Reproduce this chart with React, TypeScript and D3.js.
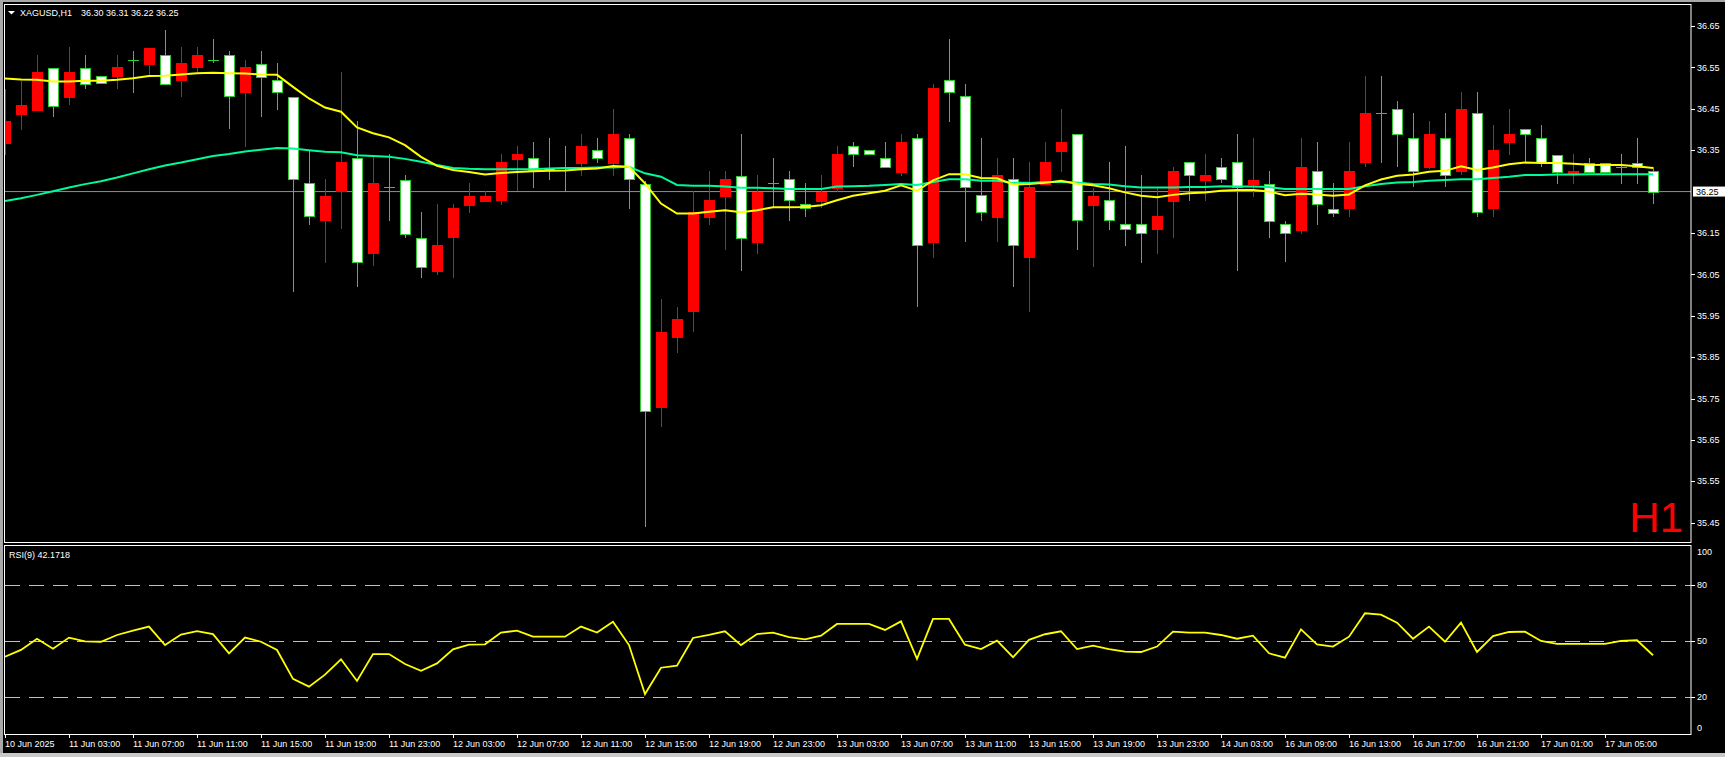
import React from "react";
import * as d3 from "d3";

// hourly bars, XAGUSD H1 (white = falling bar, red = rising bar)
const opens = [36.368, 36.438, 36.448, 36.549, 36.479, 36.549, 36.528, 36.528, 36.569, 36.56, 36.579, 36.518, 36.55, 36.569, 36.579, 36.489, 36.559, 36.519, 36.479, 36.27, 36.18, 36.25, 36.33, 36.1, 36.26, 36.279, 36.139, 36.059, 36.139, 36.218, 36.228, 36.228, 36.329, 36.33, 36.308, 36.308, 36.32, 36.35, 36.32, 36.379, 36.269, 35.73, 35.899, 35.961, 36.189, 36.238, 36.288, 36.129, 36.27, 36.28, 36.219, 36.228, 36.26, 36.36, 36.35, 36.33, 36.298, 36.379, 36.129, 36.519, 36.48, 36.241, 36.189, 36.28, 36.09, 36.269, 36.349, 36.388, 36.218, 36.229, 36.171, 36.171, 36.159, 36.227, 36.321, 36.279, 36.309, 36.321, 36.269, 36.269, 36.171, 36.158, 36.299, 36.209, 36.209, 36.32, 36.439, 36.449, 36.379, 36.309, 36.379, 36.299, 36.439, 36.209, 36.368, 36.4, 36.379, 36.339, 36.292, 36.32, 36.32, 36.309, 36.32, 36.3];
const highs = [36.499, 36.517, 36.58, 36.549, 36.599, 36.58, 36.528, 36.58, 36.59, 36.598, 36.64, 36.599, 36.599, 36.619, 36.59, 36.569, 36.59, 36.561, 36.479, 36.35, 36.28, 36.539, 36.42, 36.334, 36.34, 36.29, 36.201, 36.221, 36.22, 36.271, 36.251, 36.341, 36.36, 36.37, 36.379, 36.36, 36.389, 36.379, 36.449, 36.389, 36.275, 35.99, 35.971, 36.251, 36.3, 36.3, 36.389, 36.29, 36.331, 36.3, 36.271, 36.29, 36.36, 36.37, 36.35, 36.37, 36.389, 36.389, 36.51, 36.619, 36.51, 36.379, 36.331, 36.331, 36.321, 36.37, 36.45, 36.388, 36.259, 36.321, 36.36, 36.29, 36.259, 36.309, 36.321, 36.341, 36.331, 36.389, 36.379, 36.299, 36.18, 36.379, 36.37, 36.27, 36.37, 36.529, 36.529, 36.469, 36.439, 36.42, 36.439, 36.491, 36.491, 36.41, 36.449, 36.4, 36.41, 36.339, 36.34, 36.33, 36.32, 36.34, 36.379, 36.31];
const lows = [36.338, 36.399, 36.448, 36.429, 36.458, 36.499, 36.51, 36.499, 36.489, 36.532, 36.509, 36.479, 36.54, 36.56, 36.4, 36.358, 36.429, 36.448, 36.008, 36.17, 36.078, 36.159, 36.02, 36.069, 36.18, 36.139, 36.04, 36.048, 36.04, 36.199, 36.228, 36.218, 36.251, 36.259, 36.279, 36.25, 36.288, 36.32, 36.288, 36.209, 35.44, 35.68, 35.861, 35.91, 36.17, 36.11, 36.059, 36.1, 36.211, 36.18, 36.189, 36.21, 36.25, 36.309, 36.34, 36.309, 36.288, 35.97, 36.09, 36.419, 36.129, 36.18, 36.129, 36.02, 35.96, 36.269, 36.298, 36.11, 36.068, 36.158, 36.119, 36.078, 36.1, 36.139, 36.228, 36.228, 36.27, 36.059, 36.238, 36.139, 36.079, 36.148, 36.17, 36.189, 36.189, 36.309, 36.32, 36.309, 36.26, 36.305, 36.26, 36.29, 36.189, 36.189, 36.339, 36.32, 36.309, 36.269, 36.269, 36.299, 36.299, 36.269, 36.269, 36.22];
const closes = [36.42, 36.459, 36.539, 36.458, 36.539, 36.51, 36.51, 36.55, 36.569, 36.598, 36.509, 36.56, 36.579, 36.569, 36.48, 36.55, 36.528, 36.49, 36.28, 36.19, 36.239, 36.321, 36.079, 36.27, 36.26, 36.149, 36.069, 36.121, 36.21, 36.239, 36.239, 36.321, 36.341, 36.3, 36.303, 36.308, 36.36, 36.33, 36.389, 36.28, 35.721, 35.911, 35.942, 36.2, 36.23, 36.28, 36.139, 36.25, 36.27, 36.229, 36.21, 36.25, 36.341, 36.341, 36.34, 36.309, 36.37, 36.12, 36.5, 36.49, 36.26, 36.2, 36.29, 36.12, 36.26, 36.321, 36.37, 36.18, 36.239, 36.18, 36.159, 36.149, 36.191, 36.3, 36.289, 36.29, 36.279, 36.26, 36.279, 36.18, 36.149, 36.309, 36.219, 36.2, 36.299, 36.439, 36.439, 36.388, 36.299, 36.388, 36.29, 36.449, 36.2, 36.35, 36.388, 36.388, 36.32, 36.299, 36.299, 36.299, 36.299, 36.309, 36.31, 36.25];

// moving averages as drawn on the chart
const maFast = [36.523, 36.521, 36.52, 36.516, 36.516, 36.518, 36.518, 36.52, 36.524, 36.529, 36.53, 36.533, 36.536, 36.537, 36.536, 36.535, 36.533, 36.532, 36.503, 36.475, 36.453, 36.443, 36.405, 36.391, 36.381, 36.362, 36.334, 36.312, 36.302, 36.297, 36.291, 36.295, 36.297, 36.299, 36.3, 36.301, 36.304, 36.306, 36.312, 36.31, 36.27, 36.221, 36.197, 36.197, 36.201, 36.205, 36.2, 36.205, 36.212, 36.212, 36.213, 36.217, 36.229, 36.24, 36.246, 36.252, 36.265, 36.252, 36.277, 36.292, 36.292, 36.283, 36.282, 36.267, 36.268, 36.271, 36.276, 36.269, 36.265, 36.258, 36.248, 36.24, 36.236, 36.242, 36.246, 36.248, 36.252, 36.254, 36.254, 36.25, 36.241, 36.245, 36.243, 36.24, 36.243, 36.265, 36.279, 36.288, 36.291, 36.298, 36.3, 36.311, 36.302, 36.308, 36.316, 36.32, 36.319, 36.319, 36.317, 36.315, 36.314, 36.314, 36.311, 36.307];
const maSlow = [36.227, 36.234, 36.242, 36.251, 36.26, 36.268, 36.275, 36.284, 36.294, 36.304, 36.313, 36.32, 36.328, 36.336, 36.341, 36.347, 36.351, 36.355, 36.354, 36.35, 36.346, 36.345, 36.338, 36.336, 36.334, 36.329, 36.322, 36.314, 36.307, 36.305, 36.304, 36.304, 36.304, 36.304, 36.306, 36.307, 36.307, 36.308, 36.308, 36.31, 36.294, 36.286, 36.266, 36.264, 36.264, 36.262, 36.259, 36.259, 36.258, 36.256, 36.256, 36.256, 36.262, 36.263, 36.264, 36.266, 36.268, 36.266, 36.273, 36.28, 36.28, 36.276, 36.276, 36.271, 36.271, 36.273, 36.273, 36.272, 36.268, 36.267, 36.263, 36.26, 36.26, 36.26, 36.261, 36.261, 36.263, 36.262, 36.262, 36.261, 36.256, 36.256, 36.256, 36.256, 36.256, 36.263, 36.268, 36.272, 36.273, 36.276, 36.278, 36.28, 36.28, 36.283, 36.286, 36.29, 36.29, 36.291, 36.291, 36.292, 36.292, 36.292, 36.292, 36.292];

const rsi = [41.4, 45, 51, 45.7, 51.6, 49.6, 49.4, 53, 55.3, 57.5, 47.6, 53.2, 55.1, 53.5, 43.2, 51.6, 49.4, 45, 29.5, 25.4, 31.8, 40, 28.4, 42.8, 42.8, 37.5, 33.9, 37.8, 45.3, 47.8, 48, 54.3, 55.3, 52.1, 52.1, 52.1, 57.5, 54.3, 60.1, 47.6, 21.4, 35.5, 36.6, 51.4, 53, 55, 47.6, 53.5, 54.3, 51.8, 50.7, 52.6, 58.9, 58.9, 58.9, 55.7, 60.3, 40.2, 61.6, 61.6, 47.8, 45.5, 50, 41.1, 50.4, 53.4, 55, 45.5, 47.3, 45.5, 44.1, 43.9, 46.8, 54.8, 54.3, 54.3, 53, 51, 52.6, 43.2, 40.9, 56, 48, 46.8, 52.1, 64.6, 63.9, 59.6, 51, 57.5, 49.4, 59.6, 43.9, 52.4, 54.6, 54.8, 49.8, 48.2, 48.2, 48.2, 48.2, 49.8, 50.2, 42.1718];

const dateLabels = ["10 Jun 2025", "11 Jun 03:00", "11 Jun 07:00", "11 Jun 11:00", "11 Jun 15:00", "11 Jun 19:00", "11 Jun 23:00", "12 Jun 03:00", "12 Jun 07:00", "12 Jun 11:00", "12 Jun 15:00", "12 Jun 19:00", "12 Jun 23:00", "13 Jun 03:00", "13 Jun 07:00", "13 Jun 11:00", "13 Jun 15:00", "13 Jun 19:00", "13 Jun 23:00", "14 Jun 03:00", "16 Jun 09:00", "16 Jun 13:00", "16 Jun 17:00", "16 Jun 21:00", "17 Jun 01:00", "17 Jun 05:00"];
const priceTicks = [36.65, 36.55, 36.45, 36.35, 36.15, 36.05, 35.95, 35.85, 35.75, 35.65, 35.55, 35.45];
const rsiLevels = [80, 50, 20];
const rsiAxisLabels = [100, 80, 50, 20, 0];
const lastPrice = 36.25;

const W = 1725;
const H = 757;
const RIGHT = 1691;
const FONT = "'Liberation Sans', Arial, sans-serif";
const BULL = "#ff0000";
const BEAR = "#ffffff";
const EDGE = "#32cd32";

export default function App() {
  const n = closes.length;
  const x = d3.scaleLinear().domain([0, n - 1]).range([5, 5 + 16 * (n - 1)]);
  const y = d3.scaleLinear().domain([35.45, 36.65]).range([522.7, 26]);
  const yr = d3.scaleLinear().domain([0, 100]).range([734.1, 547.1]);

  const maLine = d3.line<number>().x((_, i) => x(i)).y((d) => y(d));
  const rsiLine = d3.line<number>().x((_, i) => x(i)).y((d) => yr(d));

  return (
    <svg width={W} height={H} style={{ position: "fixed", left: 0, top: 0, background: "#000" }} fontFamily={FONT}>
      <defs>
        <clipPath id="mainClip">
          <rect x={5} y={5} width={RIGHT - 5} height={537} />
        </clipPath>
        <clipPath id="rsiClip">
          <rect x={5} y={546} width={RIGHT - 5} height={188} />
        </clipPath>
      </defs>

      {/* window chrome */}
      <rect x={0} y={0} width={3} height={H} fill="#a8a8a8" />
      <rect x={0} y={0} width={W} height={2} fill="#a8a8a8" />
      <rect x={0} y={753} width={W} height={4} fill="#c8c8c8" />

      {/* main panel */}
      <g clipPath="url(#mainClip)">
        <line x1={5} x2={RIGHT} y1={y(lastPrice)} y2={y(lastPrice)} stroke="#8a9098" strokeWidth={1} />
        <g shapeRendering="crispEdges">
          {closes.map((c, i) => {
            const o = opens[i];
            const cx = Math.round(x(i));
            const bull = c > o;
            const doji = c === o;
            const top = y(Math.max(o, c));
            const bot = y(Math.min(o, c));
            return (
              <g key={i}>
                <line x1={cx + 0.5} x2={cx + 0.5} y1={y(highs[i])} y2={y(lows[i])} stroke={bull ? BULL : EDGE} />
                {doji ? (
                  <line x1={cx - 5} x2={cx + 6} y1={Math.round(top) + 0.5} y2={Math.round(top) + 0.5} stroke={EDGE} />
                ) : (
                  <rect
                    x={cx - 4.5}
                    y={Math.round(top) + 0.5}
                    width={10}
                    height={Math.max(1, Math.round(bot - top))}
                    fill={bull ? BULL : BEAR}
                    stroke={bull ? BULL : EDGE}
                  />
                )}
              </g>
            );
          })}
        </g>
        <path d={maLine(maSlow) ?? ""} fill="none" stroke="#00fa9a" strokeWidth={2} />
        <path d={maLine(maFast) ?? ""} fill="none" stroke="#ffff00" strokeWidth={2} />
      </g>
      <rect x={4.5} y={4.5} width={RIGHT - 4.5} height={538} fill="none" stroke="#fff" />

      <path d="M8,11 L15,11 L11.5,14.5 Z" fill="#fff" />
      <text x={20} y={16} fill="#fff" fontSize={9}>XAGUSD,H1</text>
      <text x={81} y={16} fill="#fff" fontSize={9}>
        {[opens[n - 1], highs[n - 1], lows[n - 1], closes[n - 1]].map((v) => v.toFixed(2)).join(" ")}
      </text>
      <text x={1683} y={532} fill="#ff0000" fontSize={42} textAnchor="end">H1</text>

      {/* price axis */}
      {priceTicks.map((p) => (
        <g key={p}>
          <line x1={RIGHT} x2={RIGHT + 4} y1={Math.round(y(p)) + 0.5} y2={Math.round(y(p)) + 0.5} stroke="#fff" />
          <text x={1697} y={y(p)} dy="0.35em" fill="#fff" fontSize={9}>{p.toFixed(2)}</text>
        </g>
      ))}
      <rect x={1693} y={y(lastPrice) - 5} width={32} height={10} fill="#fff" />
      <text x={1696} y={y(lastPrice)} dy="0.35em" fill="#000" fontSize={9}>{lastPrice.toFixed(2)}</text>

      {/* RSI panel */}
      <g clipPath="url(#rsiClip)">
        {rsiLevels.map((lv) => (
          <line key={lv} x1={5} x2={RIGHT} y1={Math.round(yr(lv)) + 0.5} y2={Math.round(yr(lv)) + 0.5} stroke="#c0c0c0" strokeDasharray="15 9" />
        ))}
        <path d={rsiLine(rsi) ?? ""} fill="none" stroke="#ffff00" strokeWidth={1.8} />
      </g>
      <rect x={4.5} y={545.5} width={RIGHT - 4.5} height={189} fill="none" stroke="#fff" />
      <text x={9} y={558} fill="#fff" fontSize={9}>RSI(9) {rsi[n - 1].toFixed(4)}</text>
      {rsiAxisLabels.map((lv) => {
        const yy = Math.min(Math.max(yr(lv), 552), 728);
        return (
          <g key={lv}>
            {rsiLevels.includes(lv) && (
              <line x1={RIGHT} x2={RIGHT + 4} y1={Math.round(yr(lv)) + 0.5} y2={Math.round(yr(lv)) + 0.5} stroke="#fff" />
            )}
            <text x={1697} y={yy} dy="0.35em" fill="#fff" fontSize={9}>{lv}</text>
          </g>
        );
      })}

      {/* time axis */}
      {dateLabels.map((lab, k) => {
        const tx = Math.round(x(k * 4)) + 0.5;
        return (
          <g key={lab}>
            <line x1={tx} x2={tx} y1={734} y2={738} stroke="#fff" />
            <text x={tx - 0.5} y={747} fill="#fff" fontSize={9}>{lab}</text>
          </g>
        );
      })}
    </svg>
  );
}
